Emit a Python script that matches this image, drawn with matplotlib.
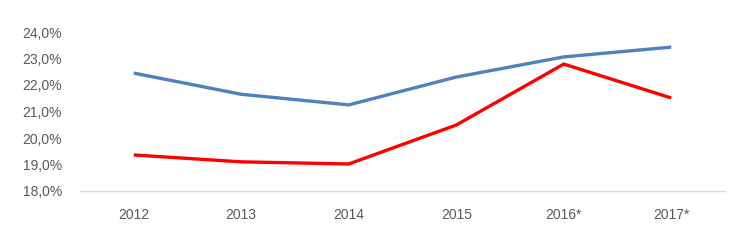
import matplotlib.pyplot as plt
from matplotlib.ticker import FuncFormatter

# data
years = ['2012', '2013', '2014', '2015', '2016*', '2017*']
blue_vals = [22.45, 21.65, 21.25, 22.30, 23.06, 23.43]
red_vals = [19.36, 19.10, 19.02, 20.49, 22.79, 21.51]
y_ticks = [18, 19, 20, 21, 22, 23, 24]

plt.rcParams['font.family'] = ['Liberation Sans', 'DejaVu Sans']

fig = plt.figure(figsize=(7.5, 2.5), dpi=100)
ax = fig.add_axes([80 / 750, 59 / 250, 645 / 750, 159 / 250])

x = list(range(len(years)))
ax.plot(x, blue_vals, color='#4F81BD', lw=2.4, solid_capstyle='butt')
ax.plot(x, red_vals, color='#FF0000', lw=2.4, solid_capstyle='butt')

ax.set_xlim(-0.5, len(years) - 0.5)
ax.set_ylim(18, 24)
ax.set_xticks(x)
ax.set_xticklabels(years)
ax.set_yticks(y_ticks)
ax.yaxis.set_major_formatter(FuncFormatter(lambda v, p: ('%.1f%%' % v).replace('.', ',')))

for s in ['top', 'right', 'left']:
    ax.spines[s].set_visible(False)
ax.spines['bottom'].set_color('#D9D9D9')
ax.spines['bottom'].set_linewidth(1)
ax.tick_params(axis='both', length=0, labelsize=10, colors='#595959')
ax.tick_params(axis='x', pad=12)
ax.tick_params(axis='y', pad=13)

fig.savefig('out.png', dpi=100)
